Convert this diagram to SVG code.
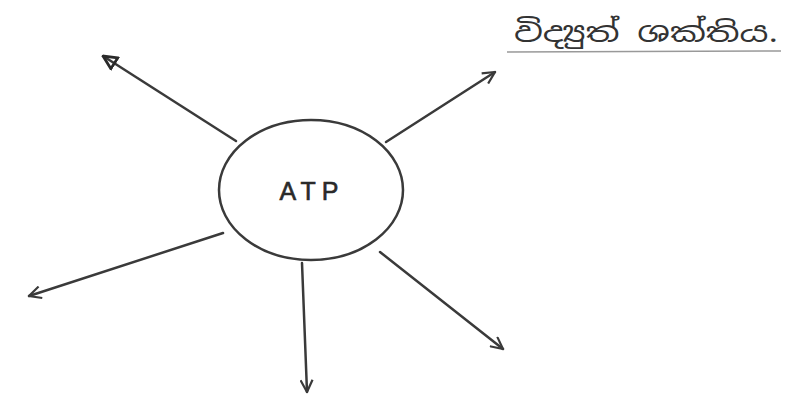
<svg xmlns="http://www.w3.org/2000/svg" width="795" height="396" viewBox="0 0 795 396">
<style>
.ln{stroke:#3a3a3a;stroke-width:2.5;fill:none;stroke-linecap:round}
.t{font-family:"Noto Sans Sinhala","Noto Sans","DejaVu Sans",sans-serif;fill:#333}
</style>
<defs>
<marker id="v" viewBox="0 0 14 14" refX="13" refY="7" markerWidth="14" markerHeight="14" markerUnits="userSpaceOnUse" orient="auto">
<path d="M1,1 L13,7 L1,13" fill="none" stroke="#3a3a3a" stroke-width="2.2"/>
</marker>
<marker id="tri" viewBox="0 0 16 16" refX="15" refY="8" markerWidth="16" markerHeight="16" markerUnits="userSpaceOnUse" orient="auto">
<path d="M1.5,1.5 L15,8 L1.5,14.5 Z" fill="none" stroke="#2a2a2a" stroke-width="2.8"/>
</marker>
</defs>
<rect width="795" height="396" fill="#fff"/>
<g id="connectors">
<line class="ln" x1="236" y1="141" x2="103" y2="56" marker-end="url(#tri)"/>
<line class="ln" x1="386" y1="142" x2="495" y2="72" marker-end="url(#v)"/>
<line class="ln" x1="223" y1="233" x2="29" y2="296" marker-end="url(#v)"/>
<line class="ln" x1="302" y1="263" x2="307" y2="392" marker-end="url(#v)"/>
<line class="ln" x1="380" y1="252" x2="503" y2="349" marker-end="url(#v)"/>
</g>
<g id="atp">
<ellipse cx="311" cy="190" rx="92" ry="70" class="ln" stroke-width="2.2"/>
<text x="312" y="200" text-anchor="middle" font-family="'Liberation Sans',sans-serif" font-size="25" letter-spacing="6" stroke="#2a2a2a" stroke-width="0.6" fill="#2a2a2a">ATP</text>
</g>
<g id="title">
<text class="t" x="514" y="42" font-size="27" textLength="264" lengthAdjust="spacingAndGlyphs">විද්‍යුත් ශක්තිය.</text>
<line x1="507" y1="52" x2="781" y2="51" stroke="#999" stroke-width="1.5"/>
</g>
</svg>
